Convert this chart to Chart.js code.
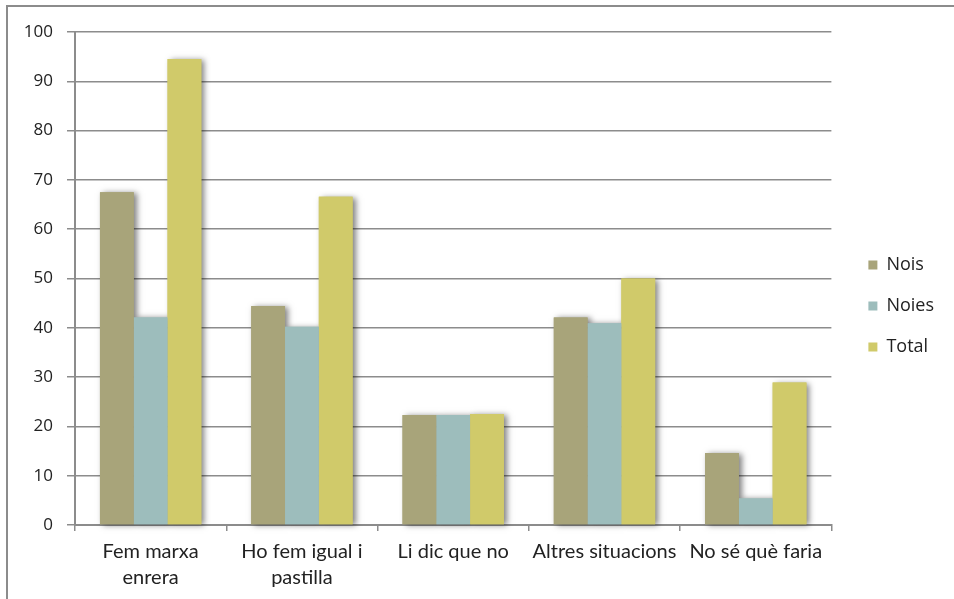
<!DOCTYPE html>
<html>
<head>
<meta charset="utf-8">
<script src="https://cdn.jsdelivr.net/npm/chart.js@4.4.0/dist/chart.umd.min.js"></script>
<style>
  body { margin: 0; background: #fff; }
  #wrap { position: relative; width: 954px; height: 599px; }
  #frame { position: absolute; left: 6px; top: 5px; right: 0; bottom: 0;
           border-left: 2px solid #8c8c8c; border-top: 2px solid #8c8c8c; pointer-events: none; }
</style>
</head>
<body>
<div id="wrap">
  <canvas id="grafic" width="954" height="599"></canvas>
  <div id="frame"></div>
</div>
<script>
// dades
var categories = [['Fem marxa', 'enrera'], ['Ho fem igual i', 'pastilla'], 'Li dic que no', 'Altres situacions', 'No sé què faria'];
var nois  = [67.5, 44.4, 22.3, 42.1, 14.6];
var noies = [42.1, 40.2, 22.3, 40.9, 5.4];
var total = [94.5, 66.6, 22.5, 50.0, 28.9];
var yMin = 0, yMax = 100, yStep = 10;

var gris = '#8c8c8c';

// ombra suau darrere de les barres
var ombra = {
  id: 'ombra',
  beforeDatasetsDraw: function (chart) {
    var ctx = chart.ctx;
    ctx.save();
    ctx.shadowColor = 'rgba(0,0,0,0.5)';
    ctx.shadowBlur = 6;
    ctx.shadowOffsetX = 3;
    ctx.shadowOffsetY = 1;
    chart.data.datasets.forEach(function (ds, i) {
      var meta = chart.getDatasetMeta(i);
      ctx.fillStyle = ds.backgroundColor;
      meta.data.forEach(function (bar) {
        var p = bar.getProps(['x', 'y', 'base', 'width'], true);
        ctx.fillRect(p.x - p.width / 2, p.y, p.width, p.base - p.y);
      });
    });
    ctx.restore();
  }
};

// eixos buits que només fan d'espai
function espai(pos, mida) {
  return {
    type: 'linear', position: pos, display: true,
    grid: { display: false }, border: { display: false }, ticks: { display: false },
    afterFit: function (s) {
      if (pos === 'top') s.height = mida; else s.width = mida;
    }
  };
}

var ctx = document.getElementById('grafic').getContext('2d');
var grafic = new Chart(ctx, {
  type: 'bar',
  data: {
    labels: categories,
    datasets: [
      { label: 'Nois',  data: nois,  backgroundColor: '#a8a47a' },
      { label: 'Noies', data: noies, backgroundColor: '#9dbdbc' },
      { label: 'Total', data: total, backgroundColor: '#d0ca6a' }
    ]
  },
  options: {
    responsive: false,
    animation: false,
    devicePixelRatio: 1,
    layout: { padding: { top: 13, bottom: 0, left: 0, right: 10 } },
    datasets: { bar: { barPercentage: 1, categoryPercentage: 0.67, borderWidth: 0 } },
    plugins: {
      tooltip: { enabled: false },
      legend: {
        position: 'right',
        labels: {
          boxWidth: 9, boxHeight: 9, padding: 23,
          color: '#222',
          font: { family: 'Open Sans', size: 18 }
        }
      }
    },
    scales: {
      x: {
        grid: { display: true, drawOnChartArea: false, offset: true, tickLength: 6, color: gris, lineWidth: 1.5 },
        border: { color: gris, width: 2 },
        ticks: { color: '#222', padding: 8, maxRotation: 0, font: { family: 'Lato', size: 20, lineHeight: 1.3 } },
        afterFit: function (s) { s.height = 74; }
      },
      y: {
        min: yMin, max: yMax,
        grid: { color: gris, lineWidth: 1.5, tickLength: 8 },
        border: { color: gris, width: 2 },
        ticks: { stepSize: yStep, color: '#222', padding: 14, font: { family: 'Open Sans', size: 17 } },
        afterFit: function (s) { s.width = 75; }
      },
      espaiDreta: espai('right', 14),
      espaiDalt: espai('top', 19)
    }
  },
  plugins: [ombra]
});
</script>
</body>
</html>
